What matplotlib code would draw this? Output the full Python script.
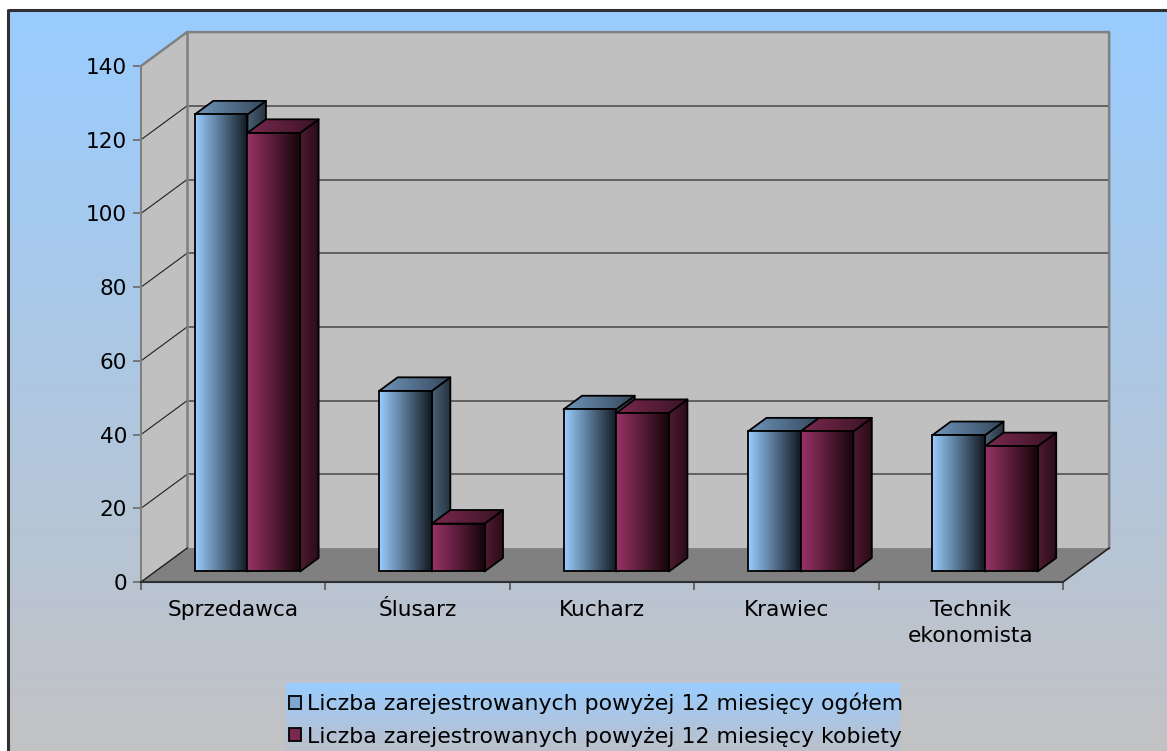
import numpy as np
import matplotlib
matplotlib.use('Agg')
import matplotlib.pyplot as plt
from matplotlib.patches import Polygon, Patch
from matplotlib.colors import LinearSegmentedColormap

zawody = ['Sprzedawca', 'Ślusarz', 'Kucharz', 'Krawiec', 'Technik\nekonomista']
ogolem = [124, 49, 44, 38, 37]
kobiety = [119, 13, 43, 38, 34]
serie = ['Liczba zarejestrowanych powyżej 12 miesięcy ogółem',
         'Liczba zarejestrowanych powyżej 12 miesięcy kobiety']
y_ticks = [0, 20, 40, 60, 80, 100, 120, 140]

plt.rcParams['font.family'] = ['DejaVu Sans']

W, H = 1167, 751
fig = plt.figure(figsize=(W / 100, H / 100), dpi=100)
fig.patch.set_facecolor('white')

# tlo wykresu w pikselach
bg = fig.add_axes([0, 0, 1, 1])
bg.axis('off')
bg.set_zorder(0)
col = np.tile(np.linspace(0, 1, 512)[:, None], (1, 4))
bg_cmap = LinearSegmentedColormap.from_list('bg', ['#99CCFF', '#C2C2C4'])
bg.imshow(col, cmap=bg_cmap, extent=(8, W, H, 10),
          aspect='auto', origin='upper', interpolation='nearest')
leg_cmap = LinearSegmentedColormap.from_list('lg', ['#99CCFF', '#BCC0CA'])
bg.imshow(col, cmap=leg_cmap, extent=(286, 900, H, 683),
          aspect='auto', origin='upper', interpolation='nearest')
bg.plot([8, W], [10, 10], color='#303030', lw=2.2, solid_capstyle='butt')
bg.plot([8, 8], [9, H], color='#303030', lw=2.2, solid_capstyle='butt')
bg.set_xlim(0, W)
bg.set_ylim(H, 0)

# os glowna - plaszczyzna przednia
x0, x1, y0, y1 = 141, 1063, 582, 66
ax = fig.add_axes([x0 / W, (H - y0) / H, (x1 - x0) / W, (y0 - y1) / H])
ax.set_zorder(1)
ax.patch.set_visible(False)

n = len(zawody)
ymax = 140
DX, DY = 0.25, 9.2          # glebokosc scian
fr, bd = 0.31, 0.40          # polozenie i glebokosc slupkow
bw = 1 / 3.5                 # szerokosc slupka (odstep 150%)

# sciany i podloga
left_wall = [(0, 0), (DX, DY), (DX, ymax + DY), (0, ymax)]
back_wall = [(DX, DY), (n + DX, DY), (n + DX, ymax + DY), (DX, ymax + DY)]
floor = [(0, 0), (n, 0), (n + DX, DY), (DX, DY)]
ax.add_patch(Polygon(left_wall, closed=True, facecolor='#C0C0C0', edgecolor='none', clip_on=False, zorder=1))
ax.add_patch(Polygon(back_wall, closed=True, facecolor='#C0C0C0', edgecolor='none', clip_on=False, zorder=1))
for v in y_ticks[1:-1]:
    ax.plot([DX, n + DX], [v + DY, v + DY], color='#5A5A5A', lw=1.3, clip_on=False, zorder=2)
    ax.plot([0, DX], [v, v + DY], color='#202020', lw=0.8, clip_on=False, zorder=2)
ax.plot([0, DX, n + DX, n + DX], [ymax, ymax + DY, ymax + DY, DY], color='#808080', lw=1.8,
        clip_on=False, zorder=2)
ax.plot([DX, DX], [DY, ymax + DY], color='#808080', lw=1.8, clip_on=False, zorder=2)
ax.add_patch(Polygon(floor, closed=True, facecolor='#808080', edgecolor='none', clip_on=False, zorder=3))
ax.plot([0, DX], [0, DY], color='#202020', lw=1.0, clip_on=False, zorder=3.5)
ax.plot([n, n + DX], [0, DY], color='#202020', lw=1.2, clip_on=False, zorder=3.5)


def gradient(patch, ext, c0, c1, z):
    cm = LinearSegmentedColormap.from_list('g', [c0, c1])
    im = ax.imshow(np.linspace(0, 1, 256)[None, :], cmap=cm, extent=ext,
                   aspect='auto', origin='lower', interpolation='bilinear', zorder=z)
    im.set_clip_path(patch)


styl = [
    {'front': ('#9ACDFF', '#111820'), 'top': ('#7096BC', '#34465A'), 'side': ('#4A6276', '#26323E')},
    {'front': ('#993366', '#140509'), 'top': ('#7A2A4E', '#3A1224'), 'side': ('#4E1C32', '#2A0A16')},
]

base = fr * DY
ox, oy = bd * DX, bd * DY
for s, vals in enumerate([ogolem, kobiety]):
    lefts = [i + 0.5 - bw + s * bw + fr * DX for i in range(n)]
    bars = ax.bar(lefts, vals, bw, bottom=base, align='edge', facecolor='none',
                  edgecolor='black', lw=1.3)
    for i, rect in enumerate(bars):
        z = 10 + (2 * i + s)
        xl = lefts[i]
        xr = xl + bw
        top = base + vals[i]
        side = Polygon([(xr, base), (xr, top), (xr + ox, top + oy), (xr + ox, base + oy)], closed=True,
                       facecolor='none', edgecolor='black', lw=1.3, joinstyle='round', zorder=z + 0.15)
        lid = Polygon([(xl, top), (xr, top), (xr + ox, top + oy), (xl + ox, top + oy)], closed=True,
                      facecolor='none', edgecolor='black', lw=1.3, joinstyle='round', zorder=z + 0.35)
        ax.add_patch(side)
        ax.add_patch(lid)
        gradient(side, (xr, xr + ox, base, top + oy), *styl[s]['side'], z + 0.1)
        gradient(lid, (xl, xr + ox, top, top + oy), *styl[s]['top'], z + 0.3)
        rect.set_zorder(z + 0.55)
        gradient(rect, (xl, xr, base, top), *styl[s]['front'], z + 0.5)

ax.set_xlim(0, n)
ax.set_ylim(0, ymax)
ax.set_yticks(y_ticks)
ax.set_xticks([i + 0.5 for i in range(n)])
ax.set_xticklabels(zawody, fontsize=15.6, linespacing=1.35, va='top')
ax.set_xticks(range(n + 1), minor=True)
ax.tick_params(axis='x', which='major', length=0, pad=13)
ax.tick_params(axis='x', which='minor', length=6, width=1.3, color='#606060', direction='out')
ax.tick_params(axis='y', length=6, width=1.3, color='#707070', labelsize=15.6, pad=4)
for side_name in ['top', 'right']:
    ax.spines[side_name].set_visible(False)
ax.spines['left'].set_color('#808080')
ax.spines['left'].set_linewidth(1.5)
ax.spines['bottom'].set_color('#303030')
ax.spines['bottom'].set_linewidth(1.5)
ax.spines['bottom'].set_zorder(4)

handles = [Patch(facecolor='#7FA6CE', edgecolor='black', lw=1.3),
           Patch(facecolor='#7A2850', edgecolor='black', lw=1.3)]
fig.legend(handles, serie, loc='upper left', bbox_to_anchor=(289 / W, 1 - 693 / H),
           frameon=False, fontsize=15.8, handlelength=0.55, handleheight=0.55, handletextpad=0.25,
           labelspacing=0.55, borderaxespad=0, borderpad=0)

fig.savefig('out.png', dpi=100)
